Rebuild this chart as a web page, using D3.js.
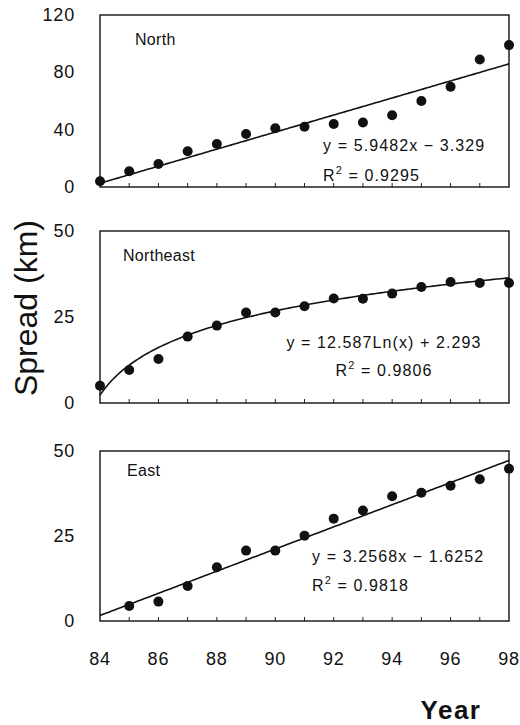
<!DOCTYPE html>
<html>
<head>
<meta charset="utf-8">
<script src="https://cdn.jsdelivr.net/npm/d3@7"></script>
<style>
body { margin: 0; background: #fff; }
svg { display: block; }
text { font-family: "Liberation Sans", Arial, Helvetica, sans-serif; fill: #111; }
.tick-label { font-size: 18px; letter-spacing: 0.8px; }
.eq { font-size: 16px; letter-spacing: 1.1px; }
.panel-name { font-size: 16px; letter-spacing: 0.3px; }
</style>
</head>
<body>
<div id="chart"></div>
<script>
// years on x axis (1984..1998, shown as two digits)
var years = [84, 85, 86, 87, 88, 89, 90, 91, 92, 93, 94, 95, 96, 97, 98];
var xTicks = [84, 86, 88, 90, 92, 94, 96, 98];

// spread per year
var northYears = [84, 85, 86, 87, 88, 89, 90, 91, 92, 93, 94, 95, 96, 97, 98];
var northVals  = [4, 11, 16, 25, 30, 37, 41, 42, 44, 45, 50, 60, 70, 89, 99];

var northeastYears = [84, 85, 86, 87, 88, 89, 90, 91, 92, 93, 94, 95, 96, 97, 98];
var northeastVals  = [5, 9.6, 12.8, 19.3, 22.5, 26.3, 26.3, 28.1, 30.4, 30.3, 31.8, 33.7, 35.2, 34.9, 34.9];

var eastYears = [85, 86, 87, 88, 89, 90, 91, 92, 93, 94, 95, 96, 97, 98];
var eastVals  = [4.4, 5.7, 10.3, 15.8, 20.7, 20.7, 25.1, 30.1, 32.5, 36.7, 37.7, 39.8, 41.7, 44.8];

// trend coefficients as printed (x = year index, 1 at 84)
var northFit = [5.9482, -3.329];
var northeastFit = [12.587, 2.293];
var eastFit = [3.2568, -1.6252];

var northTicks = [0, 40, 80, 120];
var northeastTicks = [0, 25, 50];
var eastTicks = [0, 25, 50];

var W = 520, H = 725;
var left = 100, right = 509;

var svg = d3.select("#chart").append("svg")
    .attr("width", W)
    .attr("height", H);

var x = d3.scaleLinear().domain([84, 98]).range([left, right]);

var panels = [
    { name: "North", nx: 135, ny: 45, top: 15, bottom: 187, max: 120, ticks: northTicks,
      yrs: northYears, vals: northVals, fit: northFit, kind: "lin",
      eq: "y = 5.9482x \u2212 3.329", r2: "0.9295", anchor: "start", ex: 323, ey: 151, ry: 181 },
    { name: "Northeast", nx: 123, ny: 261, top: 231, bottom: 403, max: 50, ticks: northeastTicks,
      yrs: northeastYears, vals: northeastVals, fit: northeastFit, kind: "log",
      eq: "y = 12.587Ln(x) + 2.293", r2: "0.9806", anchor: "middle", ex: 384, ey: 348, ry: 376 },
    { name: "East", nx: 127, ny: 476, top: 451, bottom: 621, max: 50, ticks: eastTicks,
      yrs: eastYears, vals: eastVals, fit: eastFit, kind: "lin",
      eq: "y = 3.2568x \u2212 1.6252", r2: "0.9818", anchor: "start", ex: 312, ey: 562, ry: 591 }
];

panels.forEach(function(p, pi) {
    var y = d3.scaleLinear().domain([0, p.max]).range([p.bottom, p.top]);
    var g = svg.append("g");

    // inner year ticks along the bottom
    g.selectAll("line.xt")
        .data(years.slice(1, -1))
        .enter().append("line")
        .attr("x1", function(d) { return x(d); })
        .attr("x2", function(d) { return x(d); })
        .attr("y1", p.bottom)
        .attr("y2", p.bottom - 4)
        .attr("stroke", "#222")
        .attr("stroke-width", 1);

    // y tick labels
    g.selectAll("text.yl")
        .data(p.ticks)
        .enter().append("text")
        .attr("class", "tick-label")
        .attr("x", 75)
        .attr("y", function(d) { return y(d) + 6; })
        .attr("text-anchor", "end")
        .text(function(d) { return d; });

    // trend line / curve
    var fx;
    if (p.kind == "lin") {
        fx = function(yr) { return p.fit[0] * (yr - 83) + p.fit[1]; };
    } else {
        fx = function(yr) { return p.fit[0] * Math.log(yr - 83) + p.fit[1]; };
    }
    var curveX = d3.range(84, 98.001, 0.1);
    var line = d3.line()
        .x(function(d) { return x(d); })
        .y(function(d) { return y(fx(d)); });
    g.append("path")
        .datum(curveX)
        .attr("d", line)
        .attr("fill", "none")
        .attr("stroke", "#111")
        .attr("stroke-width", 1.6);

    // points
    g.selectAll("circle")
        .data(p.yrs)
        .enter().append("circle")
        .attr("cx", function(d) { return x(d); })
        .attr("cy", function(d, i) { return y(p.vals[i]); })
        .attr("r", 5)
        .attr("fill", "#111");

    // frame
    g.append("rect")
        .attr("x", left)
        .attr("y", p.top)
        .attr("width", right - left)
        .attr("height", p.bottom - p.top)
        .attr("fill", "none")
        .attr("stroke", "#111")
        .attr("stroke-width", 1.4);

    g.append("text")
        .attr("class", "panel-name")
        .attr("x", p.nx)
        .attr("y", p.ny)
        .text(p.name);

    g.append("text")
        .attr("class", "eq")
        .attr("x", p.ex)
        .attr("y", p.ey)
        .attr("text-anchor", p.anchor)
        .text(p.eq);

    var r = g.append("text")
        .attr("class", "eq")
        .attr("x", p.ex)
        .attr("y", p.ry)
        .attr("text-anchor", p.anchor);
    r.append("tspan").text("R");
    r.append("tspan").attr("dy", -7).style("font-size", "11px").text("2");
    r.append("tspan").attr("dy", 7).text(" = " + p.r2);

    if (pi == panels.length - 1) {
        g.selectAll("text.xl")
            .data(xTicks)
            .enter().append("text")
            .attr("class", "tick-label")
            .attr("x", function(d) { return x(d); })
            .attr("y", 665)
            .attr("text-anchor", "middle")
            .text(function(d) { return d; });
    }
});

svg.append("text")
    .attr("transform", "translate(37,308) rotate(-90)")
    .attr("text-anchor", "middle")
    .style("font-size", "32px")
    .text("Spread (km)");

svg.append("text")
    .attr("x", 451)
    .attr("y", 719)
    .attr("text-anchor", "middle")
    .style("font-size", "26px")
    .style("font-weight", "bold")
    .style("letter-spacing", "1.5px")
    .text("Year");
</script>
</body>
</html>
